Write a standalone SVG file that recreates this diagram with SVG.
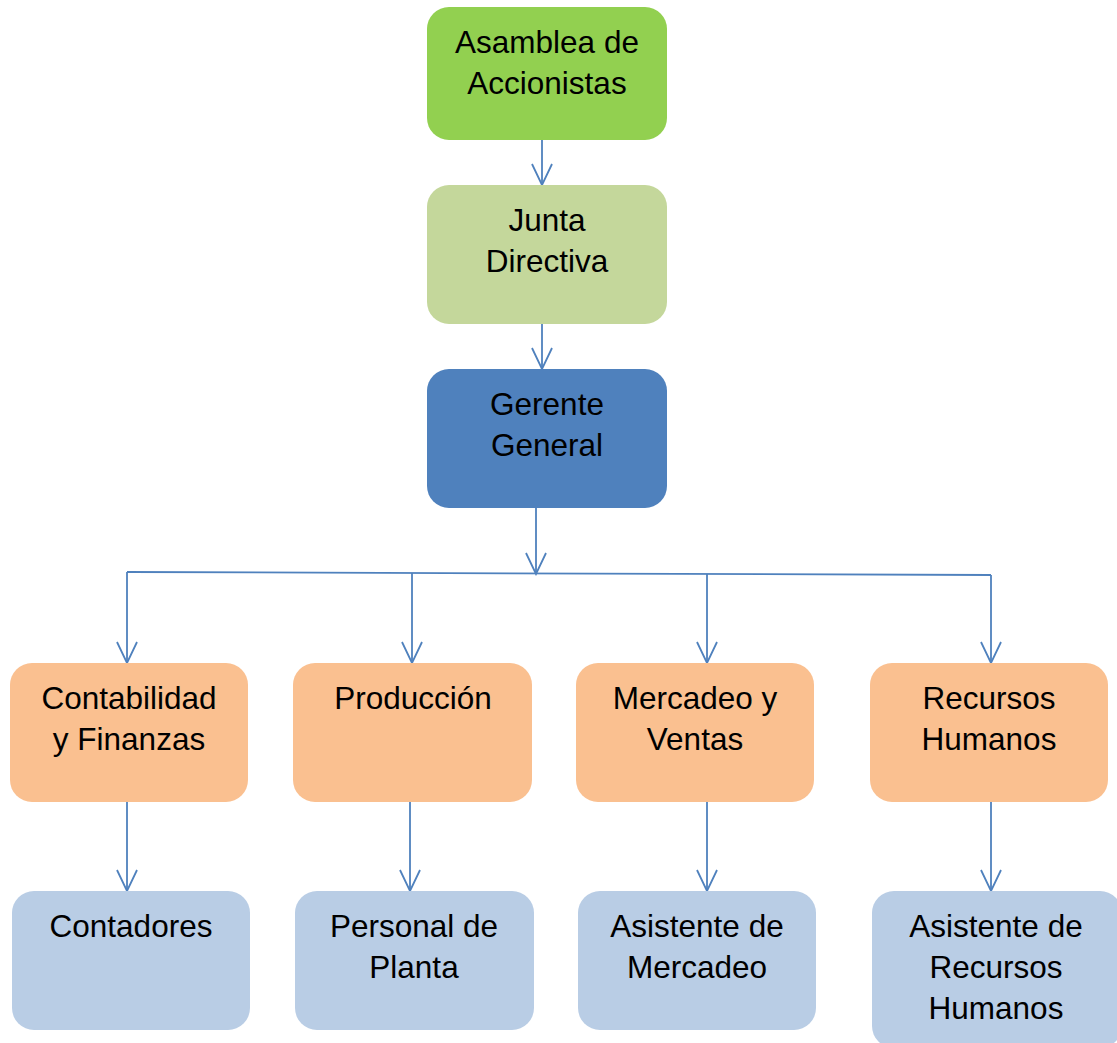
<svg xmlns="http://www.w3.org/2000/svg" width="1117" height="1043" viewBox="0 0 1117 1043">
<defs>
<marker id="arr" markerWidth="24" markerHeight="24" viewBox="-22 -12 24 24" refX="0" refY="0" orient="auto" markerUnits="userSpaceOnUse">
<path d="M-21,-10 L0,0 L-21,10" fill="none" stroke="#4F81BD" stroke-width="1.8"/>
</marker>
<style>
.t{font-family:"Liberation Sans",Arial,sans-serif;font-size:31.5px;fill:#000;text-anchor:middle}
.c{fill:none;stroke:#4F81BD;stroke-width:1.8}
</style>
</defs>
<rect width="1117" height="1043" fill="#fff"/>
<g id="connectors">
<line class="c" x1="542" y1="140" x2="542" y2="185" marker-end="url(#arr)"/>
<line class="c" x1="542" y1="324" x2="542" y2="369" marker-end="url(#arr)"/>
<line class="c" x1="536" y1="508" x2="536" y2="574" marker-end="url(#arr)"/>
<polyline class="c" points="127,572 991,575"/>
<line class="c" x1="127" y1="572" x2="127" y2="663" marker-end="url(#arr)"/>
<line class="c" x1="412" y1="573" x2="412" y2="663" marker-end="url(#arr)"/>
<line class="c" x1="707" y1="574" x2="707" y2="663" marker-end="url(#arr)"/>
<line class="c" x1="991" y1="575" x2="991" y2="663" marker-end="url(#arr)"/>
<line class="c" x1="127" y1="802" x2="127" y2="891" marker-end="url(#arr)"/>
<line class="c" x1="410" y1="802" x2="410" y2="891" marker-end="url(#arr)"/>
<line class="c" x1="707" y1="802" x2="707" y2="891" marker-end="url(#arr)"/>
<line class="c" x1="991" y1="802" x2="991" y2="891" marker-end="url(#arr)"/>
</g>
<g id="asamblea"><rect x="427" y="7" width="240" height="133" rx="22" fill="#92D050"/>
<text class="t" x="547" y="53">Asamblea de</text><text class="t" x="547" y="94">Accionistas</text></g>
<g id="junta"><rect x="427" y="185" width="240" height="139" rx="22" fill="#C4D79B"/>
<text class="t" x="547" y="231">Junta</text><text class="t" x="547" y="272">Directiva</text></g>
<g id="gerente"><rect x="427" y="369" width="240" height="139" rx="22" fill="#4F81BD"/>
<text class="t" x="547" y="415">Gerente</text><text class="t" x="547" y="456">General</text></g>
<g id="contabilidad"><rect x="10" y="663" width="238" height="139" rx="22" fill="#FAC090"/>
<text class="t" x="129" y="709">Contabilidad</text><text class="t" x="129" y="750">y Finanzas</text></g>
<g id="produccion"><rect x="293" y="663" width="239" height="139" rx="22" fill="#FAC090"/>
<text class="t" x="413" y="709">Producción</text></g>
<g id="mercadeo"><rect x="576" y="663" width="238" height="139" rx="22" fill="#FAC090"/>
<text class="t" x="695" y="709">Mercadeo y</text><text class="t" x="695" y="750">Ventas</text></g>
<g id="rrhh"><rect x="870" y="663" width="238" height="139" rx="22" fill="#FAC090"/>
<text class="t" x="989" y="709">Recursos</text><text class="t" x="989" y="750">Humanos</text></g>
<g id="contadores"><rect x="12" y="891" width="238" height="139" rx="22" fill="#B9CDE5"/>
<text class="t" x="131" y="937">Contadores</text></g>
<g id="personal"><rect x="295" y="891" width="239" height="139" rx="22" fill="#B9CDE5"/>
<text class="t" x="414" y="937">Personal de</text><text class="t" x="414" y="978">Planta</text></g>
<g id="asistmercadeo"><rect x="578" y="891" width="238" height="139" rx="22" fill="#B9CDE5"/>
<text class="t" x="697" y="937">Asistente de</text><text class="t" x="697" y="978">Mercadeo</text></g>
<g id="asistrrhh"><rect x="872" y="891" width="250" height="157" rx="22" fill="#B9CDE5"/>
<text class="t" x="996" y="937">Asistente de</text><text class="t" x="996" y="978">Recursos</text><text class="t" x="996" y="1019">Humanos</text></g>
</svg>
